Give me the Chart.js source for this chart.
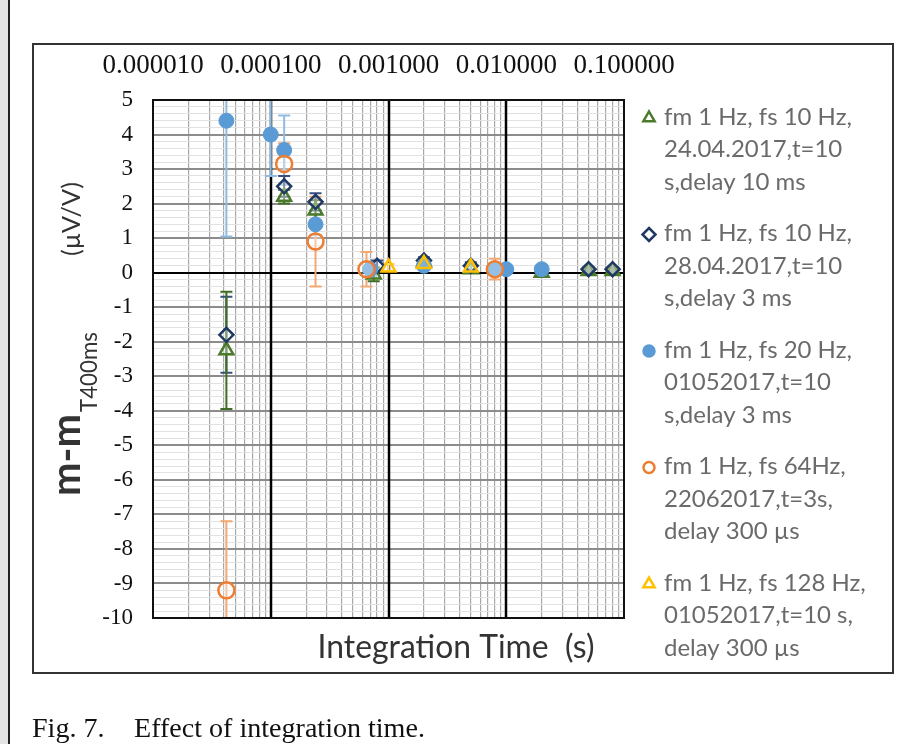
<!DOCTYPE html>
<html><head><meta charset="utf-8">
<script src="https://cdn.jsdelivr.net/npm/chart.js@4.4.1/dist/chart.umd.min.js"></script>
<style>
html,body{margin:0;padding:0;width:913px;height:744px;overflow:hidden;background:#fff;}
#strip{position:absolute;left:0;top:0;width:8px;height:744px;background:#e4e4e4;border-right:2px solid #222;}
#box{position:absolute;left:32px;top:43px;width:858px;height:627px;border:2px solid #333;}
#c{position:absolute;left:0;top:0;}
</style></head>
<body>
<div id="strip"></div><div id="box"></div>
<canvas id="c" width="913" height="744"></canvas>
<script>
// ---- data ----
const xTickValues = [1e-5, 1e-4, 1e-3, 1e-2, 1e-1];
const xTickLabels = ['0.000010', '0.000100', '0.001000', '0.010000', '0.100000'];
const yTickMin = -10, yTickMax = 5;

const seriesLabels = [
  ['fm 1 Hz, fs 10 Hz,', '24.04.2017,t=10', 's,delay 10 ms'],
  ['fm 1 Hz, fs 10 Hz,', '28.04.2017,t=10', 's,delay 3 ms'],
  ['fm 1 Hz, fs 20 Hz,', '01052017,t=10', 's,delay 3 ms'],
  ['fm 1 Hz, fs 64Hz,', '22062017,t=3s,', 'delay 300 \u00b5s'],
  ['fm 1 Hz, fs 128 Hz,', '01052017,t=10 s,', 'delay 300 \u00b5s']
];

// series 1: green triangles
const s1X = [4.2e-5, 1.3e-4, 2.4e-4, 7.5e-4, 2e-3, 5e-3, 2e-2, 5e-2, 8e-2];
const s1Y = [-2.25, 2.2, 1.8, -0.05, 0.3, 0.1, 0.0, 0.05, 0.05];
const s1E = [1.7, 0.2, 0.3, 0.2, 0.1, 0.1, 0.05, 0.05, 0.05];
// series 2: navy diamonds
const s2X = [4.2e-5, 1.3e-4, 2.4e-4, 8e-4, 2e-3, 5e-3, 5e-2, 8e-2];
const s2Y = [-1.8, 2.5, 2.05, 0.2, 0.35, 0.2, 0.1, 0.1];
const s2E = [1.1, 0.3, 0.25, 0.15, 0.1, 0.1, 0.05, 0.05];
// series 3: blue filled circles
const s3X = [4.2e-5, 1e-4, 1.3e-4, 2.4e-4, 7e-4, 2e-3, 8e-3, 1e-2, 2e-2];
const s3Y = [4.4, 4.0, 3.55, 1.4, 0.1, 0.2, 0.1, 0.1, 0.1];
const s3E = [3.35, 1.2, 1.0, 0.3, 0.2, 0.1, 0.1, 0.1, 0.1];
// series 4: orange open circles
const s4X = [4.2e-5, 1.3e-4, 2.4e-4, 6.5e-4, 8e-3];
const s4Y = [-9.2, 3.15, 0.9, 0.1, 0.1];
const s4E = [2.0, 0.6, 1.3, 0.5, 0.3];
// series 5: yellow open triangles
const s5X = [1e-3, 2e-3, 5e-3];
const s5Y = [0.15, 0.25, 0.15];
const s5E = [0.1, 0.1, 0.1];

// ---- styles ----
const styles = [
  {color:'#4a7a2a', err:'#3f6e22', style:'triangle', r:8, fill:'rgba(255,255,255,0.35)', bw:2.5},
  {color:'#1f3864', err:'#3a4f80', style:'rectRot', r:7, fill:'rgba(255,255,255,0.35)', bw:2.5},
  {color:'#5b9bd5', err:'#8fbbe3', style:'circle', r:7.5, fill:'#5b9bd5', bw:1},
  {color:'#ed7d31', err:'#f4a872', style:'circle', r:8, fill:'rgba(255,255,255,0.35)', bw:2.5},
  {color:'#ffc000', err:'#ffd34d', style:'triangle', r:8, fill:'rgba(255,255,255,0.2)', bw:2.5}
];
const allX = [s1X, s2X, s3X, s4X, s5X];
const allY = [s1Y, s2Y, s3Y, s4Y, s5Y];
const allE = [s1E, s2E, s3E, s4E, s5E];

const datasets = allX.map((xs, k) => ({
  label: seriesLabels[k].join(' '),
  data: xs.map((x, i) => ({x: x, y: allY[k][i]})),
  err: allE[k],
  errColor: styles[k].err,
  pointStyle: styles[k].style,
  pointRadius: styles[k].r,
  pointBackgroundColor: styles[k].fill,
  pointBorderColor: styles[k].color,
  pointBorderWidth: styles[k].bw,
  order: 5 - k
}));

// gridline values for log axis (1..9 per decade)
const xGridValues = [];
for (let e = -5; e <= -2; e++) for (let m = 1; m <= 9; m++) xGridValues.push(+(m * Math.pow(10, e)).toPrecision(3));
xGridValues.push(1e-1);
const yGridValues = [];
for (let i = 0; i <= 75; i++) yGridValues.push(Math.round((yTickMin + i * 0.2) * 10) / 10);

function isDecade(v) { return xTickValues.some(d => Math.abs(v / d - 1) < 1e-6); }
function decadeLabel(v) { const i = xTickValues.findIndex(d => Math.abs(v / d - 1) < 1e-6); return i >= 0 ? xTickLabels[i] : ''; }
function isInt(v) { return Math.abs(v - Math.round(v)) < 1e-6; }

function fitFont(ctx, text, weight, family, target) {
  ctx.font = weight + ' 100px ' + family;
  const w = ctx.measureText(text).width;
  return 100 * target / w;
}

function drawMarker(ctx, style, x, y, r, stroke, fill, bw) {
  ctx.save();
  ctx.beginPath();
  if (style === 'triangle') {
    ctx.moveTo(x, y - r);
    ctx.lineTo(x + r * 0.866, y + r * 0.5);
    ctx.lineTo(x - r * 0.866, y + r * 0.5);
    ctx.closePath();
  } else if (style === 'rectRot') {
    ctx.moveTo(x, y - r); ctx.lineTo(x + r, y); ctx.lineTo(x, y + r); ctx.lineTo(x - r, y); ctx.closePath();
  } else {
    ctx.arc(x, y, r, 0, Math.PI * 2);
  }
  ctx.fillStyle = fill; ctx.fill();
  ctx.lineWidth = bw; ctx.strokeStyle = stroke; ctx.stroke();
  ctx.restore();
}

const errorBars = {
  id: 'errorBars',
  beforeDatasetsDraw(chart) {
    const {ctx, chartArea: a, scales: {x, y}} = chart;
    ctx.save();
    // re-draw major decade lines and the zero line above the minor grid
    ctx.strokeStyle = '#000'; ctx.lineWidth = 2.5;
    xTickValues.forEach(v => {
      const px = Math.round(x.getPixelForValue(v));
      if (px <= a.left + 1 || px >= a.right - 1) return;
      ctx.beginPath(); ctx.moveTo(px, a.top); ctx.lineTo(px, a.bottom); ctx.stroke();
    });
    const y0 = Math.round(y.getPixelForValue(0));
    ctx.lineWidth = 2;
    ctx.beginPath(); ctx.moveTo(a.left, y0); ctx.lineTo(a.right, y0); ctx.stroke();

    ctx.beginPath(); ctx.rect(a.left, a.top, a.right - a.left, a.bottom - a.top); ctx.clip();
    chart.data.datasets.slice().reverse().forEach(ds => {
      ctx.strokeStyle = ds.errColor; ctx.lineWidth = 2;
      ds.data.forEach((p, i) => {
        const e = ds.err[i]; if (!e) return;
        const px = x.getPixelForValue(p.x);
        const yt = y.getPixelForValue(p.y + e), yb = y.getPixelForValue(p.y - e);
        ctx.beginPath();
        ctx.moveTo(px, yt); ctx.lineTo(px, yb);
        ctx.moveTo(px - 6, yt); ctx.lineTo(px + 6, yt);
        ctx.moveTo(px - 6, yb); ctx.lineTo(px + 6, yb);
        ctx.stroke();
      });
    });
    ctx.restore();
  }
};

const decor = {
  id: 'decor',
  afterDraw(chart) {
    const ctx = chart.ctx, a = chart.chartArea;
    ctx.save();
    // plot frame
    ctx.strokeStyle = '#111'; ctx.lineWidth = 2;
    ctx.strokeRect(a.left, a.top, a.right - a.left, a.bottom - a.top);

    // y axis title (rotated, with subscript)
    const fam = 'Lato';
    const f1 = fitFont(ctx, 'm-m', 'bold', fam, 82);
    const f2 = fitFont(ctx, 'T400ms', 'normal', fam, 80);
    const f3 = fitFont(ctx, '(\u00b5V/V)', 'normal', fam, 74);
    ctx.save();
    ctx.translate(80, 496);
    ctx.rotate(-Math.PI / 2);
    ctx.fillStyle = '#333';
    ctx.textBaseline = 'alphabetic'; ctx.textAlign = 'left';
    ctx.font = 'bold ' + f1 + 'px ' + fam; ctx.fillText('m-m', 0, 0);
    ctx.font = 'normal ' + f2 + 'px ' + fam; ctx.fillText('T400ms', 84, 17);
    ctx.font = 'normal ' + f3 + 'px ' + fam; ctx.fillText('(\u00b5V/V)', 240, 0);
    ctx.restore();

    // x axis title
    const fx = fitFont(ctx, 'Integration Time  (s)', 'normal', fam, 277);
    ctx.font = 'normal ' + fx + 'px ' + fam;
    ctx.fillStyle = '#333'; ctx.textAlign = 'center'; ctx.textBaseline = 'middle';
    ctx.fillText('Integration Time  (s)', 456, 648);

    // legend
    const fl = fitFont(ctx, 'fm 1 Hz, fs 10 Hz,', 'normal', fam, 188);
    ctx.font = 'normal ' + fl + 'px ' + fam;
    ctx.fillStyle = '#6a6a6a'; ctx.textAlign = 'left'; ctx.textBaseline = 'middle';
    seriesLabels.forEach((lines, i) => {
      const y0 = 117 + i * 116.5;
      const s = styles[i];
      drawMarker(ctx, s.style, 649, y0 + 1, s.style === 'circle' ? 5.5 : 6.5, s.color, i === 2 ? s.color : '#fff', 2.5);
      lines.forEach((t, j) => ctx.fillText(t, 664, y0 + j * 32.5));
    });

    // caption
    const fc = fitFont(ctx, 'Effect of integration time.', 'normal', 'Liberation Serif', 291);
    ctx.font = 'normal ' + fc + 'px Liberation Serif';
    ctx.fillStyle = '#111'; ctx.textAlign = 'left'; ctx.textBaseline = 'middle';
    ctx.fillText('Fig. 7.', 32, 730);
    ctx.fillText('Effect of integration time.', 134, 730);
    ctx.restore();
  }
};

new Chart(document.getElementById('c'), {
  type: 'scatter',
  data: {datasets: datasets},
  options: {
    responsive: false, animation: false, devicePixelRatio: 1,
    layout: {padding: {left: 0, top: 0, right: 289, bottom: 126}},
    plugins: {legend: {display: false}, tooltip: {enabled: false}},
    scales: {
      x: {
        type: 'logarithmic', position: 'top', min: 1e-5, max: 1e-1,
        afterFit(s) { s.height = 100; },
        afterBuildTicks(s) { s.ticks = xGridValues.map(v => ({value: v})); },
        border: {display: false},
        grid: {
          drawTicks: false,
          color: c => isDecade(c.tick.value) ? '#000' : '#a8a8a8',
          lineWidth: c => isDecade(c.tick.value) ? 2 : 1.2
        },
        ticks: {
          autoSkip: false, maxRotation: 0, minRotation: 0, padding: 18,
          font: {family: 'Liberation Serif', size: 27}, color: '#111',
          callback: v => decadeLabel(v)
        }
      },
      y: {
        min: yTickMin, max: yTickMax,
        afterFit(s) { s.width = 153; },
        afterBuildTicks(s) { s.ticks = yGridValues.map(v => ({value: v})); },
        border: {display: false},
        grid: {
          drawTicks: false,
          color: c => Math.abs(c.tick.value) < 1e-6 ? '#000' : (isInt(c.tick.value) ? '#8c8c8c' : '#e2e2e2'),
          lineWidth: c => Math.abs(c.tick.value) < 1e-6 ? 2 : (isInt(c.tick.value) ? 2 : 1)
        },
        ticks: {
          autoSkip: false, padding: 20,
          font: {family: 'Liberation Serif', size: 23}, color: '#111',
          callback: v => isInt(v) ? String(Math.round(v)) : ''
        }
      }
    }
  },
  plugins: [errorBars, decor]
});
</script>
</body></html>
